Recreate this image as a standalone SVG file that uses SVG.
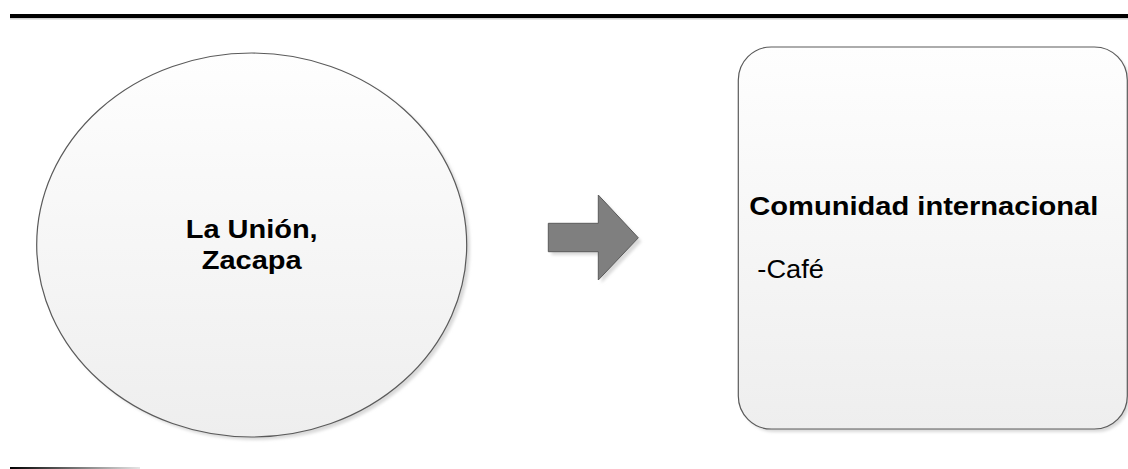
<svg xmlns="http://www.w3.org/2000/svg" width="1128" height="469" viewBox="0 0 1128 469">
<style>
.shape{stroke:#5a5a5a;stroke-width:1.2}
.shadow{fill:#d9d9d9}
.b{font-family:"Liberation Sans",Arial,sans-serif;font-weight:bold;font-size:25.5px;fill:#000}
.r{font-family:"Liberation Sans",Arial,sans-serif;font-size:25.5px;fill:#000}
</style>
<defs>
<linearGradient id="fillg" x1="0" y1="0" x2="0" y2="1">
<stop offset="0" stop-color="#fefefe"/>
<stop offset="1" stop-color="#eeeeee"/>
</linearGradient>
<linearGradient id="barg" x1="0" y1="0" x2="1" y2="0">
<stop offset="0" stop-color="#000"/>
<stop offset="1" stop-color="#e6e6e6"/>
</linearGradient>
<filter id="blur" x="-10%" y="-10%" width="120%" height="120%"><feGaussianBlur stdDeviation="1.5"/></filter>
</defs>
<rect x="10" y="18" width="1118" height="1.5" fill="#cfcfcf"/>
<rect x="10" y="14" width="1118" height="4" fill="#000"/>
<rect x="10" y="467" width="130" height="2" fill="url(#barg)"/>
<g id="node-la-union">
<ellipse cx="255" cy="248" rx="215" ry="192" class="shadow" filter="url(#blur)"/>
<ellipse cx="251.7" cy="245" rx="215" ry="192" fill="url(#fillg)" class="shape"/>
<text class="b" x="251.7" y="238" text-anchor="middle" textLength="132" lengthAdjust="spacingAndGlyphs">La Unión,</text>
<text class="b" x="251.7" y="269" text-anchor="middle" textLength="100" lengthAdjust="spacingAndGlyphs">Zacapa</text>
</g>
<g id="connectors">
<polygon points="551.5,226.5 601.5,226.5 601.5,198 641.5,241.5 601.5,283 601.5,255 551.5,255" class="shadow" filter="url(#blur)"/>
<polygon points="548.3,223.3 598.3,223.3 598.3,195 638.3,237.8 598.3,280 598.3,251.7 548.3,251.7" fill="#7f7f7f" stroke="#5a5a5a" stroke-width="1"/>
</g>
<g id="node-comunidad">
<rect x="741" y="50" width="389" height="382" rx="33" ry="33" class="shadow" filter="url(#blur)"/>
<rect x="738.3" y="47" width="389" height="382" rx="33" ry="33" fill="url(#fillg)" class="shape"/>
<text class="b" x="749.3" y="215" textLength="349" lengthAdjust="spacingAndGlyphs">Comunidad internacional</text>
<text class="r" x="757.3" y="278.3" textLength="66.7" lengthAdjust="spacingAndGlyphs">-Café</text>
</g>
</svg>
